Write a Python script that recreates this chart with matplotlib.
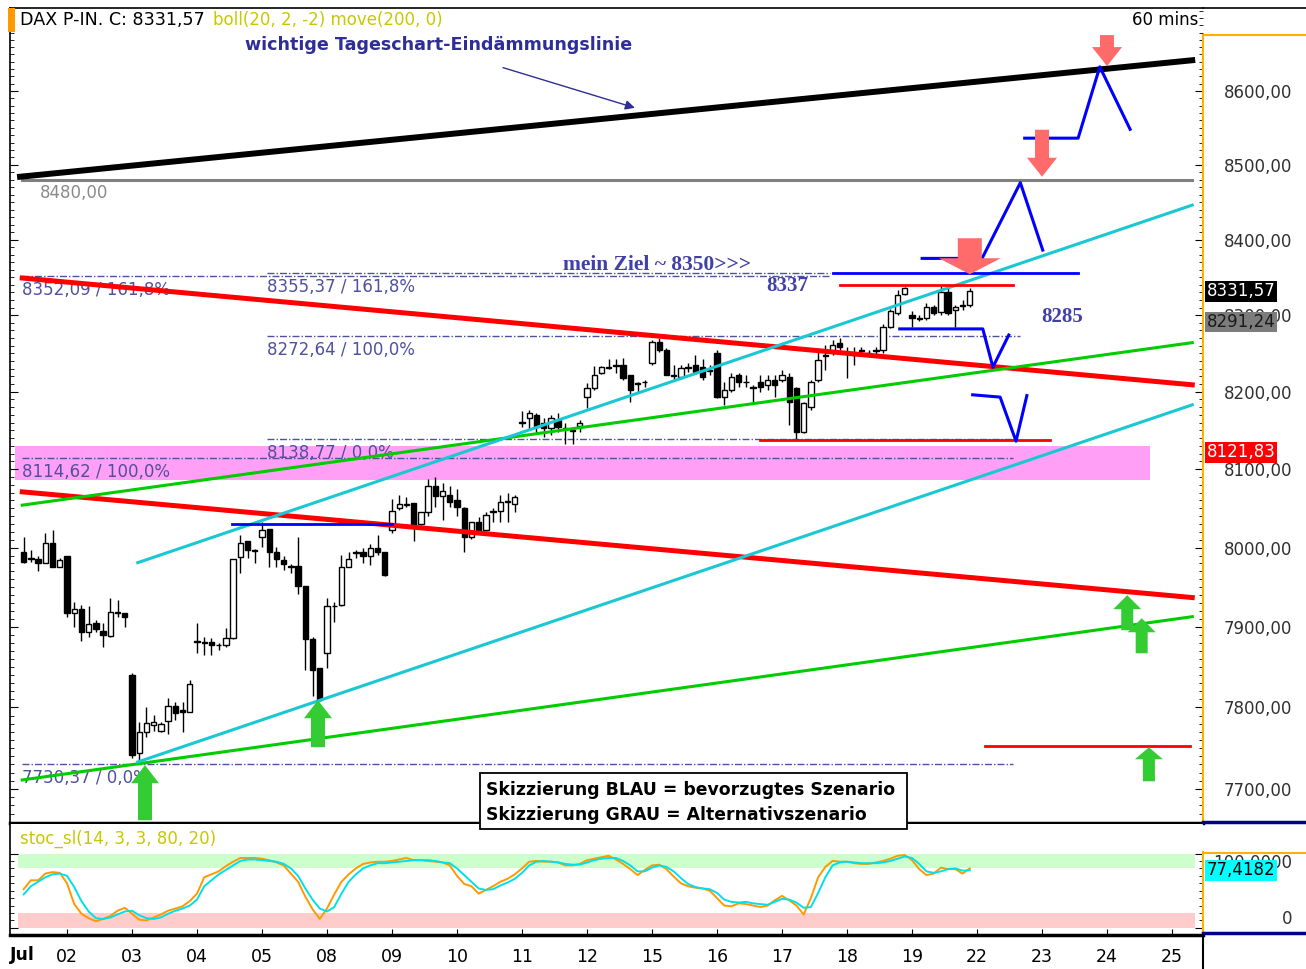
import numpy as np
import matplotlib.pyplot as plt
from matplotlib.patches import Polygon, Rectangle
from matplotlib.lines import Line2D
from matplotlib.transforms import IdentityTransform, blended_transform_factory
from matplotlib.ticker import FixedLocator, NullFormatter

plt.rcParams['font.family'] = ['DejaVu Sans']

# hourly DAX candles, bar index 0 = Jul 01 09:00, 9 bars per trading day
first_bar = 3
opens = [7994, 7987, 7986, 7981, 8006, 7976,
         7989, 7918, 7923, 7894, 7905, 7895, 7889, 7919, 7917,
         7840, 7744, 7770, 7778, 7771, 7783, 7802, 7797, 7795,
         7882, 7881, 7881, 7878, 7877, 7886, 7988, 8008, 7997,
         8013, 8024, 7995, 7984, 7977, 7977, 7951, 7885, 7849,
         7868, 7926, 7928, 7976, 7993, 7995, 7989, 8000, 7994,
         8023, 8050, 8055, 8057, 8030, 8045, 8078, 8066, 8067,
         8060, 8051, 8013, 8032, 8023, 8045, 8046, 8058, 8056,
         8161, 8166, 8170, 8159, 8153, 8163, 8153, 8150, 8155,
         8193, 8205, 8224, 8232, 8235, 8235, 8222, 8211, 8213,
         8237, 8265, 8254, 8222, 8219, 8232, 8235, 8232, 8228,
         8251, 8193, 8202, 8222, 8213, 8206, 8213, 8209, 8215,
         8215, 8219, 8205, 8148, 8180, 8215, 8248, 8252, 8264,
         8251, 8249, 8254, 8251, 8254, 8254, 8285, 8303, 8328,
         8300, 8296, 8296, 8311, 8304, 8331, 8307, 8313, 8313]
highs = [8014, 7997, 7989, 8019, 8023, 7987,
         7990, 7931, 7928, 7927, 7909, 7905, 7937, 7934, 7918,
         7843, 7782, 7801, 7791, 7782, 7812, 7807, 7807, 7834,
         7905, 7887, 7886, 7880, 7899, 7986, 8016, 8008, 7998,
         8032, 8024, 8001, 7989, 7979, 8014, 7951, 7887, 7849,
         7937, 7931, 7991, 7994, 7997, 8000, 8004, 8016, 7994,
         8062, 8067, 8065, 8057, 8045, 8088, 8090, 8082, 8078,
         8075, 8052, 8032, 8039, 8045, 8051, 8067, 8069, 8067,
         8175, 8176, 8172, 8166, 8170, 8172, 8159, 8154, 8163,
         8211, 8233, 8233, 8242, 8242, 8244, 8222, 8213, 8215,
         8268, 8270, 8257, 8235, 8235, 8238, 8248, 8242, 8235,
         8254, 8213, 8224, 8224, 8222, 8209, 8222, 8222, 8222,
         8228, 8224, 8206, 8187, 8215, 8257, 8261, 8268, 8270,
         8258, 8258, 8258, 8255, 8258, 8288, 8308, 8333, 8337,
         8306, 8300, 8316, 8313, 8340, 8337, 8313, 8320, 8336]
lows = [7981, 7982, 7970, 7980, 7976, 7975,
        7913, 7900, 7882, 7888, 7894, 7875, 7887, 7913, 7900,
        7738, 7731, 7764, 7771, 7770, 7767, 7785, 7770, 7794,
        7868, 7865, 7865, 7871, 7875, 7885, 7968, 7987, 7981,
        8001, 7976, 7976, 7972, 7968, 7941, 7847, 7814, 7808,
        7849, 7906, 7926, 7975, 7987, 7981, 7978, 7991, 7964,
        8018, 8048, 8052, 8008, 8029, 8040, 8052, 8035, 8052,
        8040, 7994, 8011, 8019, 8021, 8033, 8033, 8033, 8045,
        8154, 8150, 8146, 8141, 8144, 8148, 8133, 8133, 8148,
        8179, 8202, 8223, 8229, 8225, 8215, 8187, 8199, 8206,
        8235, 8252, 8222, 8215, 8217, 8226, 8224, 8215, 8222,
        8192, 8183, 8200, 8206, 8206, 8185, 8200, 8202, 8193,
        8213, 8157, 8138, 8146, 8176, 8212, 8228, 8248, 8254,
        8218, 8235, 8248, 8248, 8249, 8251, 8283, 8300, 8327,
        8284, 8292, 8294, 8300, 8300, 8300, 8284, 8307, 8311]
closes = [7982, 7985, 7981, 8006, 7976, 7984,
          7918, 7923, 7894, 7904, 7898, 7890, 7919, 7918, 7912,
          7741, 7770, 7781, 7782, 7780, 7802, 7793, 7795, 7829,
          7881, 7880, 7878, 7877, 7886, 7985, 8006, 7997, 7996,
          8023, 7995, 7985, 7979, 7976, 7951, 7885, 7847, 7809,
          7927, 7927, 7975, 7986, 7994, 7989, 8000, 7994, 7966,
          8047, 8055, 8054, 8027, 8045, 8078, 8066, 8072, 8058,
          8052, 8014, 8032, 8023, 8042, 8046, 8058, 8059, 8064,
          8160, 8172, 8154, 8153, 8166, 8154, 8152, 8149, 8159,
          8205, 8222, 8232, 8231, 8234, 8218, 8202, 8210, 8212,
          8265, 8254, 8222, 8221, 8231, 8231, 8226, 8219, 8227,
          8193, 8202, 8219, 8213, 8212, 8205, 8206, 8215, 8209,
          8222, 8187, 8148, 8185, 8212, 8241, 8247, 8261, 8258,
          8250, 8248, 8253, 8250, 8253, 8284, 8305, 8327, 8336,
          8296, 8295, 8311, 8303, 8331, 8303, 8311, 8312, 8331.57]

stoch_k = [52, 64, 64, 73, 75, 74,
           60, 32, 19, 13, 9, 12, 16, 23, 27,
           19, 11, 10, 14, 18, 23, 26, 29, 36,
           46, 68, 72, 76, 83, 89, 94, 94, 94,
           93, 91, 88, 84, 73, 62, 42, 25, 12,
           26, 45, 62, 72, 80, 86, 88, 89, 89,
           90, 92, 94, 91, 91, 90, 89, 88, 84,
           70, 59, 56, 46, 51, 56, 62, 66, 72,
           80, 89, 90, 89, 89, 88, 84, 84, 86,
           91, 93, 95, 97, 92, 86, 79, 71, 78,
           84, 85, 79, 69, 60, 56, 54, 53, 50,
           40, 30, 29, 33, 32, 30, 28, 30, 37,
           43, 37, 30, 18, 40, 68, 82, 90, 89,
           89, 87, 86, 86, 88, 90, 93, 97, 98,
           91, 79, 71, 73, 81, 79, 79, 73, 80]
stoch_d = [45, 56, 62, 68, 72, 73,
           70, 55, 36, 22, 13, 12, 14, 18, 22,
           23, 17, 13, 12, 14, 19, 23, 26, 30,
           38, 56, 64, 72, 78, 84, 90, 92, 92,
           91, 90, 89, 86, 80, 70, 53, 38, 26,
           22, 28, 46, 62, 72, 80, 84, 87, 87,
           88, 89, 90, 91, 91, 91, 90, 88, 87,
           80, 71, 62, 53, 51, 52, 57, 61, 66,
           74, 84, 89, 90, 89, 88, 86, 85, 85,
           88, 91, 93, 94, 94, 90, 84, 76, 76,
           81, 84, 82, 76, 67, 59, 55, 53, 52,
           47, 38, 35, 34, 35, 33, 32, 31, 35,
           39, 38, 34, 27, 28, 47, 68, 84, 88,
           89, 88, 87, 87, 87, 88, 90, 93, 96,
           94, 86, 76, 74, 76, 79, 80, 77, 77.4182]

day_labels = ['02', '03', '04', '05', '08', '09', '10', '11', '12',
              '15', '16', '17', '18', '19', '22', '23', '24', '25']
price_ticks = [7700, 7800, 7900, 8000, 8100, 8200, 8300, 8400, 8500, 8600]

# hand-drawn trend lines: (bar0, price0, bar1, price1)
black_line = (2.5, 8484, 164.8, 8642)
red_lines = [(2.8, 8349, 164.8, 8209), (2.8, 8071, 164.8, 7937)]
green_lines = [(2.8, 8054, 164.8, 8264), (2.8, 7711, 164.8, 7913)]
cyan_lines = [(18.8, 7981, 164.8, 8446), (18.8, 7733, 164.8, 8183)]
gray_level = 8480

# fibonacci levels
fib_values = [8352.09, 8355.37, 8272.64, 8138.77, 8114.62, 7730.37]
fib_pcts = ['161,8%', '161,8%', '100,0%', '0,0%', '100,0%', '0,0%']
fib_from = [2.8, 36.7, 36.7, 36.7, 2.8, 2.8]
fib_to = [114.6, 114.6, 141.0, 140.0, 140.0, 140.0]
zone = (1.8, 159.0, 8086, 8130)

# scenario sketch (blue)
blue_paths = [([127.4, 135.7, 141.0, 144.1], [8375, 8375, 8476, 8386]),
              ([141.6, 149.0, 152.0, 156.2], [8536, 8536, 8633, 8548]),
              ([124.3, 135.8, 137.2, 139.4], [8282, 8282, 8232, 8274]),
              ([134.4, 138.2, 140.4, 141.9], [8196, 8193, 8136, 8195])]
blue_levels = [(115.1, 149.0, 8355.5), (31.8, 54.0, 8030)]
red_levels = [(116.0, 140.0, 8340), (105.0, 145.1, 8138), (136.1, 164.5, 7752)]

red_arrow_x = [134.0, 144.0, 153.0]
red_arrow_p = [8354, 8484, 8634]
green_arrow_x = [19.8, 43.75, 155.8, 157.8, 158.8]
green_arrow_p = [7729, 7809, 7940, 7911, 7751]

W, H = 1306, 969
fig = plt.figure(figsize=(W / 100, H / 100), dpi=100)


def fx(px):
    return px / W


def fy(py):
    return 1 - py / H


def comma(v, d=2):
    return f'{v:.{d}f}'.replace('.', ',')


ORANGE_AX = '#ffb000'
FIB = '#50509e'

ax = fig.add_axes([fx(10), fy(823), fx(1203) - fx(10), fy(8) - fy(823)])
ax2 = fig.add_axes([fx(10), fy(935), fx(1203) - fx(10), fy(824) - fy(935)])

ax.set_yscale('log')
ax.set_ylim(7658.6, 8713.8)
ax.set_xlim(1.108, 166.29)
ax2.set_xlim(1.108, 166.29)
ax2.set_ylim(-9.6, 139.7)

# ---- main panel ----
bars = np.arange(first_bar, first_bar + len(opens))
o = np.array(opens, float)
c = np.array(closes, float)
up = c >= o
ax.vlines(bars, lows, highs, color='black', lw=1, zorder=3)
ax.bar(bars, np.abs(c - o), bottom=np.minimum(o, c), width=0.75,
       color=np.where(up, 'white', 'black'), edgecolor='black', lw=1, zorder=3.1)

ax.fill_between([zone[0], zone[1]], zone[2], zone[3], color='#ff9ff5', lw=0, zorder=1)

for v, pct, a, b in zip(fib_values, fib_pcts, fib_from, fib_to):
    ax.plot([a, b], [v, v], color=FIB, lw=1, ls=(0, (5, 1.5, 1, 1.5)), zorder=2)
    ax.annotate(f'{comma(v)} / {pct}', xy=(a, v), xytext=(0, -10),
                textcoords='offset points', va='center', ha='left',
                color=FIB, fontsize=12, zorder=2.5)

ax.plot([2.8, 164.8], [gray_level, gray_level], color='#808080', lw=2.2, zorder=4)
ax.text(5.3, 8462, comma(gray_level), color='#8a8a8a', fontsize=12, va='center')
ax.plot(black_line[::2], black_line[1::2], color='black', lw=4.3, zorder=4)
for ln in red_lines:
    ax.plot(ln[::2], ln[1::2], color='#ff0000', lw=3.6, zorder=4)
for ln in green_lines:
    ax.plot(ln[::2], ln[1::2], color='#00cc00', lw=2.2, zorder=4)
for ln in cyan_lines:
    ax.plot(ln[::2], ln[1::2], color='#19c8d2', lw=2.2, zorder=4)

for a, b, v in red_levels:
    ax.plot([a, b], [v, v], color='#ff0000', lw=2, zorder=4.5)
for a, b, v in blue_levels:
    ax.plot([a, b], [v, v], color='#0000ff', lw=2, zorder=5)
for xs, ps in blue_paths:
    ax.plot(xs, ps, color='#0000ff', lw=2.2, zorder=5)


def block_arrow(x0, p0, ws, wh, hl, tl, color, down):
    x, y = ax.transData.transform((x0, p0))
    s = 1 if down else -1
    verts = [(x, y), (x - wh, y + s * hl), (x - ws, y + s * hl), (x - ws, y + s * tl),
             (x + ws, y + s * tl), (x + ws, y + s * hl), (x + wh, y + s * hl)]
    ax.add_patch(Polygon(verts, closed=True, transform=IdentityTransform(),
                         fc=color, ec='none', zorder=6))


red_sizes = [(12, 31, 16, 36), (7, 15, 19, 47), (7, 15, 19, 31)]
for x0, p0, sz in zip(red_arrow_x, red_arrow_p, red_sizes):
    block_arrow(x0, p0, *sz, color='#ff6a6a', down=True)
green_sizes = [(7, 14, 18, 55), (7, 14, 18, 47), (6, 14, 14, 35), (6, 14, 14, 35), (6, 14, 12, 34)]
for x0, p0, sz in zip(green_arrow_x, green_arrow_p, green_sizes):
    block_arrow(x0, p0, *sz, color='#33cc33', down=False)

# annotations
ax.text(33.6, 8663, 'wichtige Tageschart-Eindämmungslinie', color='#2e2e96',
        fontsize=12.6, fontweight='bold', va='center', ha='left', zorder=7)
ax.annotate('', xy=(88.0, 8576), xytext=(69.0, 8633),
            arrowprops=dict(arrowstyle='-|>', color='#2e2e96', lw=1, mutation_scale=14), zorder=7)
ax.text(77.7, 8366, 'mein Ziel ~ 8350>>>', color='#4040a8', fontsize=15.5,
        fontweight='bold', family='Liberation Serif', va='center', ha='left', zorder=7)
ax.text(105.8, 8338, '8337', color='#4040a8', fontsize=15, fontweight='bold',
        family='Liberation Serif', va='center', ha='left', zorder=7)
ax.text(143.9, 8297, '8285', color='#4040a8', fontsize=15, fontweight='bold',
        family='Liberation Serif', va='center', ha='left', zorder=7)

# axis styling main
ax.set_xticks([])
ax.set_yticks(price_ticks, [comma(v) for v in price_ticks])
ax.yaxis.set_minor_locator(FixedLocator(np.arange(7660, 8720, 10)))
ax.yaxis.set_minor_formatter(NullFormatter())
ax.tick_params(axis='y', which='both', direction='in', left=True, right=True,
               labelleft=False, labelright=True, pad=64, labelsize=12, labelcolor='#303030')
ax.tick_params(axis='y', which='major', length=6)
ax.tick_params(axis='y', which='minor', length=3)
for lab in ax.get_yticklabels():
    lab.set_horizontalalignment('right')
ax.spines['right'].set_color(ORANGE_AX)
ax.spines['right'].set_linewidth(1.5)
ax.spines['right'].set_bounds(7658.6, 8676.6)
ax.spines['top'].set_linewidth(1.2)
ax.spines['left'].set_linewidth(1.2)
ax.spines['bottom'].set_linewidth(2.5)

tr = blended_transform_factory(ax.transAxes, ax.transData)
for val, fc, tc in [(8331.57, 'black', 'white'), (8291.24, '#7c7c7c', '#1a1a1a'),
                    (8121.83, '#ff0000', 'white')]:
    ax.text(1.003, val, comma(val), transform=tr, ha='left', va='center', color=tc,
            fontsize=12, clip_on=False, zorder=8,
            bbox=dict(boxstyle='square,pad=0.08', fc=fc, ec='none'))

# ---- stochastic panel ----
ax2.fill_between([2.2, 165.2], 80, 100, color='#ccffcc', lw=0, zorder=1)
ax2.fill_between([2.2, 165.2], 0, 20, color='#ffcccc', lw=0, zorder=1)
ax2.plot(bars, stoch_k, color='#ff9900', lw=1.4, zorder=3)
ax2.plot(bars, stoch_d, color='#00e0ea', lw=1.4, zorder=3.5)
ax2.text(0.008, 0.87, 'stoc_sl(14, 3, 3, 80, 20)', transform=ax2.transAxes,
         color='#c8c800', fontsize=12, va='center', ha='left')

ax2.set_xticks(np.arange(1, 19) * 9, day_labels)
ax2.tick_params(axis='x', direction='in', length=4, pad=9, labelsize=12.5)
ax2.set_yticks([0, 100], ['0', '100,0000'])
ax2.yaxis.set_minor_locator(FixedLocator(np.arange(0, 101, 10)))
ax2.yaxis.set_minor_formatter(NullFormatter())
ax2.tick_params(axis='y', which='both', direction='in', left=True, right=True,
                labelleft=False, labelright=True, pad=64, labelsize=12, labelcolor='#303030')
ax2.tick_params(axis='y', which='major', length=6)
ax2.tick_params(axis='y', which='minor', length=3)
ylabs = ax2.get_yticklabels()
ylabs[0].set_verticalalignment('bottom')
ylabs[1].set_verticalalignment('top')
for lab in ylabs:
    lab.set_horizontalalignment('right')
ax2.spines['top'].set_visible(False)
ax2.spines['right'].set_color(ORANGE_AX)
ax2.spines['right'].set_linewidth(1.5)
ax2.spines['right'].set_bounds(-5.5, 102.7)
ax2.spines['bottom'].set_linewidth(2.5)
ax2.spines['left'].set_linewidth(1.2)
tr2 = blended_transform_factory(ax2.transAxes, ax2.transData)
ax2.text(1.003, stoch_d[-1], comma(stoch_d[-1], 4), transform=tr2, ha='left', va='center',
         color='black', fontsize=12, clip_on=False, zorder=8,
         bbox=dict(boxstyle='square,pad=0.08', fc='#00ffff', ec='none'))

# ---- header and frame ----
fig.text(fx(20), fy(20), 'DAX P-IN. C: 8331,57', fontsize=12.6, va='center', ha='left')
fig.text(fx(213), fy(20), 'boll(20, 2, -2) move(200, 0)', fontsize=12, va='center',
         ha='left', color='#c8c800')
fig.text(fx(1198), fy(20), '60 mins', fontsize=12, va='center', ha='right')
fig.text(fx(10), fy(955), 'Jul', fontsize=12.5, fontweight='bold', va='center', ha='left')
fig.add_artist(Rectangle((fx(8), fy(32)), fx(7), fy(8) - fy(32), transform=fig.transFigure,
                         fc='#ff9900', ec='none'))
for xs, ys, col, lw in [([1203, 1306], [8, 8], 'black', 1.2),
                        ([1205, 1306], [35, 35], ORANGE_AX, 1.5),
                        ([1203, 1306], [822, 822], '#00008c', 2.5),
                        ([1205, 1306], [853, 853], ORANGE_AX, 1.5),
                        ([1203, 1306], [933, 933], '#00008c', 2.5),
                        ([1203, 1203], [935, 969], 'black', 1.5)]:
    fig.add_artist(Line2D([fx(v) for v in xs], [fy(v) for v in ys], color=col, lw=lw,
                          transform=fig.transFigure))

# legend box
fig.add_artist(Rectangle((fx(480), fy(829)), fx(427), fy(773) - fy(829), transform=fig.transFigure,
                         fc='white', ec='black', lw=1.3, zorder=10))
fig.text(fx(486), fy(790), 'Skizzierung BLAU = bevorzugtes Szenario', fontsize=12.4,
         fontweight='bold', va='center', ha='left', zorder=11)
fig.text(fx(486), fy(815), 'Skizzierung GRAU = Alternativszenario', fontsize=12.4,
         fontweight='bold', va='center', ha='left', zorder=11)

fig.savefig('out.png', dpi=100)
